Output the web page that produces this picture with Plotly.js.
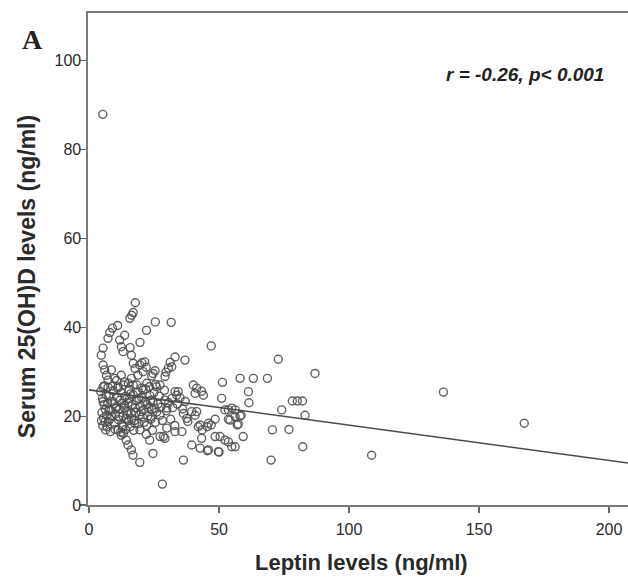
<!DOCTYPE html>
<html>
<head>
<meta charset="utf-8">
<script src="https://cdn.plot.ly/plotly-3.0.1.min.js"></script>
<style>html,body{margin:0;padding:0;background:#fff;}#chart{width:628px;height:581px;}</style>
</head>
<body>
<div id="chart"></div>
<script>
// Leptin (ng/ml) and serum 25(OH)D (ng/ml)
const leptin = [
  // dense core
  4.5,5.2,5.8,6.3,5.0,5.6,6.1,6.8,7.2,7.6,8.0,8.4,8.9,9.3,9.7,10.1,10.5,10.9,11.3,11.7,12.0,12.4,12.8,13.1,13.5,13.9,14.3,14.6,15.0,15.4,
  15.8,16.2,16.6,17.0,17.4,17.8,18.2,18.6,19.0,19.4,19.8,20.2,20.6,21.0,21.4,21.8,22.2,22.6,23.0,23.4,23.8,24.2,24.6,25.0,25.5,26.0,26.5,
  6.0,7.0,8.2,9.0,10.0,11.0,12.2,13.3,14.0,15.2,16.0,17.2,18.4,19.6,20.8,22.0,23.2,24.4,25.6,27.0,27.6,28.2,29.0,29.8,30.6,31.4,32.2,33.0,
  34.0,35.0,36.0,37.0,38.0,5.4,6.6,7.8,9.6,11.6,13.6,15.6,17.6,19.2,21.2,23.6,25.2,4.8,5.3,6.4,7.4,8.6,10.3,12.6,14.8,16.4,18.0,20.0,22.4,24.0,
  // upper-left spread
  17.8,16.4,15.7,17.0,25.5,31.6,11.0,9.0,22.1,8.0,7.3,13.7,19.6,11.8,12.4,13.1,15.8,47.0,5.4,4.7,16.3,17.0,21.4,19.5,22.0,20.3,5.4,6.0,8.6,
  17.7,33.1,31.2,36.9,29.6,30.5,31.8,6.7,7.3,9.9,12.4,13.7,16.3,18.8,20.8,24.6,25.4,24.1,29.2,10.6,15.1,17.0,20.3,22.2,27.3,5.4,7.3,11.2,
  25.9,40.1,41.4,43.3,33.1,34.3,40.8,44.0,
  // middle
  51.0,29.2,31.8,33.7,27.3,29.9,36.3,37.6,39.5,40.8,41.4,52.3,54.2,56.2,42.7,45.9,47.0,42.0,28.6,29.9,33.1,35.7,43.3,50.4,52.3,53.6,39.5,
  42.7,45.9,49.7,54.9,36.3,28.2,48.5,48.5,45.5,43.5,45.5,50.0,
  12.4,14.3,15.0,16.3,16.9,19.5,23.3,24.6,27.3,29.2,11.2,13.1,13.2,
  51.3,53.6,54.9,58.1,53.6,57.0,
  // right part
  72.8,58.1,63.2,68.6,86.9,61.3,61.5,78.2,80.1,82.1,74.1,83.1,58.5,57.4,59.3,70.5,76.9,82.2,70.0,56.2,108.7,56.2,
  136.3,167.4,5.3
];
const vitD = [
  25.5,24.0,22.6,21.5,20.8,19.6,18.7,20.2,22.9,24.5,19.4,21.2,23.3,25.7,18.4,20.5,22.1,24.1,19.2,21.6,23.6,25.2,18.0,20.0,22.4,24.4,19.5,21.1,23.0,26.0,
  17.6,20.7,22.6,24.8,19.0,21.9,23.5,25.4,18.3,20.3,22.2,24.2,19.8,21.4,23.1,26.1,17.9,20.0,22.0,24.6,19.3,21.5,23.2,25.3,18.6,20.9,22.7,
  26.8,17.6,16.5,26.8,17.0,26.3,16.4,27.0,17.0,19.0,25.0,16.8,27.0,16.9,25.9,15.9,26.6,16.8,27.1,24.5,22.0,19.0,25.8,21.2,23.0,19.3,21.9,17.9,
  22.7,24.1,21.6,23.3,18.8,23.3,24.8,21.4,22.8,19.9,21.8,23.9,18.4,24.0,18.6,23.5,21.8,19.0,17.8,16.9,18.8,20.0,21.7,22.9,20.4,19.4,20.8,21.0,22.6,19.8,
  45.5,42.7,42.0,43.3,41.2,41.1,40.4,39.8,39.3,38.8,37.5,38.2,36.6,37.1,35.6,34.5,35.4,35.8,35.3,33.7,33.7,31.9,32.2,31.5,31.0,32.0,31.5,30.4,30.4,
  30.7,33.3,32.1,32.6,29.9,30.8,31.1,29.2,28.1,28.5,29.2,27.7,28.5,29.2,30.0,29.6,30.2,29.0,28.9,28.0,27.4,27.0,26.3,27.4,27.0,26.6,26.5,26.6,
  26.6,27.0,26.3,25.6,25.5,25.5,25.1,24.7,
  24.0,23.6,24.0,24.7,20.2,21.8,20.6,19.5,21.0,20.2,21.0,21.4,19.1,19.9,18.0,18.4,18.0,17.6,15.4,17.3,16.5,16.5,15.0,15.4,14.6,14.2,13.5,
  12.8,12.4,12.0,13.1,10.1,4.7,15.4,19.3,17.6,16.9,12.2,11.9,
  15.7,14.6,13.5,12.4,11.2,9.6,14.6,11.6,15.4,15.0,16.9,17.6,16.1,
  27.6,21.4,21.8,20.0,19.3,18.0,
  32.8,28.5,28.5,28.5,29.6,25.5,23.0,23.4,23.4,23.4,21.4,20.2,20.2,18.2,15.4,16.9,17.0,13.1,10.1,13.1,11.2,21.4,
  25.4,18.4,87.9
];
// fitted regression line
const fitIntercept = 25.9;
const fitSlope = -0.0794;
const fitX = [0, 210];
const fitY = fitX.map(x => fitIntercept + fitSlope * x);

const xTicks = [0, 50, 100, 150, 200];
const yTicks = [0, 20, 40, 60, 80, 100];

const traces = [
  {
    x: leptin, y: vitD, type: 'scatter', mode: 'markers',
    marker: {symbol: 'circle-open', size: 8, color: 'rgba(80,80,80,0.9)', line: {width: 1.4}},
    hoverinfo: 'skip', showlegend: false
  },
  {
    x: fitX, y: fitY, type: 'scatter', mode: 'lines',
    line: {color: '#4a4a4a', width: 1.6}, hoverinfo: 'skip', showlegend: false
  }
];

const sans = 'Liberation Sans, Arial, sans-serif';
const tickFont = {family: sans, size: 16, color: '#2a2a2a'};
const layout = {
  width: 628, height: 581,
  margin: {l: 88, r: 0, t: 13, b: 76},
  paper_bgcolor: '#fff', plot_bgcolor: '#fff',
  showlegend: false,
  xaxis: {
    range: [-0.4, 207.3], tickvals: xTicks, ticktext: xTicks.map(String),
    ticks: 'outside', ticklen: 6, tickwidth: 1.2, tickcolor: '#666',
    showline: true, linecolor: '#7a7a7a', linewidth: 1.6, mirror: true,
    showgrid: false, zeroline: false, tickfont: tickFont, ticklabelstandoff: 3
  },
  yaxis: {
    range: [0, 110.7], tickvals: yTicks, ticktext: yTicks.map(String),
    ticks: 'outside', ticklen: 6, tickwidth: 1.2, tickcolor: '#666',
    showline: true, linecolor: '#7a7a7a', linewidth: 1.6, mirror: false,
    showgrid: false, zeroline: false, tickfont: tickFont, ticklabelstandoff: -4
  },
  annotations: [
    {text: '<b>Leptin levels (ng/ml)</b>', xref: 'paper', yref: 'paper',
     x: 0.507, y: -0.116, xanchor: 'center', yanchor: 'middle', showarrow: false,
     font: {family: sans, size: 22, color: '#2a2a2a'}},
    {text: '<b>Serum 25(OH)D levels (ng/ml)</b>', textangle: -90, xref: 'paper', yref: 'paper',
     x: -0.113, y: 0.465, xanchor: 'center', yanchor: 'middle', showarrow: false,
     font: {family: sans, size: 23, color: '#2a2a2a'}},
    {text: '<b>A</b>', xref: 'paper', yref: 'paper', x: -0.102, y: 0.947, xanchor: 'center', yanchor: 'middle',
     showarrow: false, font: {family: 'Liberation Serif, Times New Roman, serif', size: 28, color: '#222'}},
    {text: '<b><i>r = -0.26, p< 0.001</i></b>', xref: 'paper', yref: 'paper', x: 0.959, y: 0.874,
     xanchor: 'right', yanchor: 'middle', showarrow: false,
     font: {family: sans, size: 19, color: '#222'}}
  ]
};

Plotly.newPlot('chart', traces, layout, {displayModeBar: false, staticPlot: true});
</script>
</body>
</html>
